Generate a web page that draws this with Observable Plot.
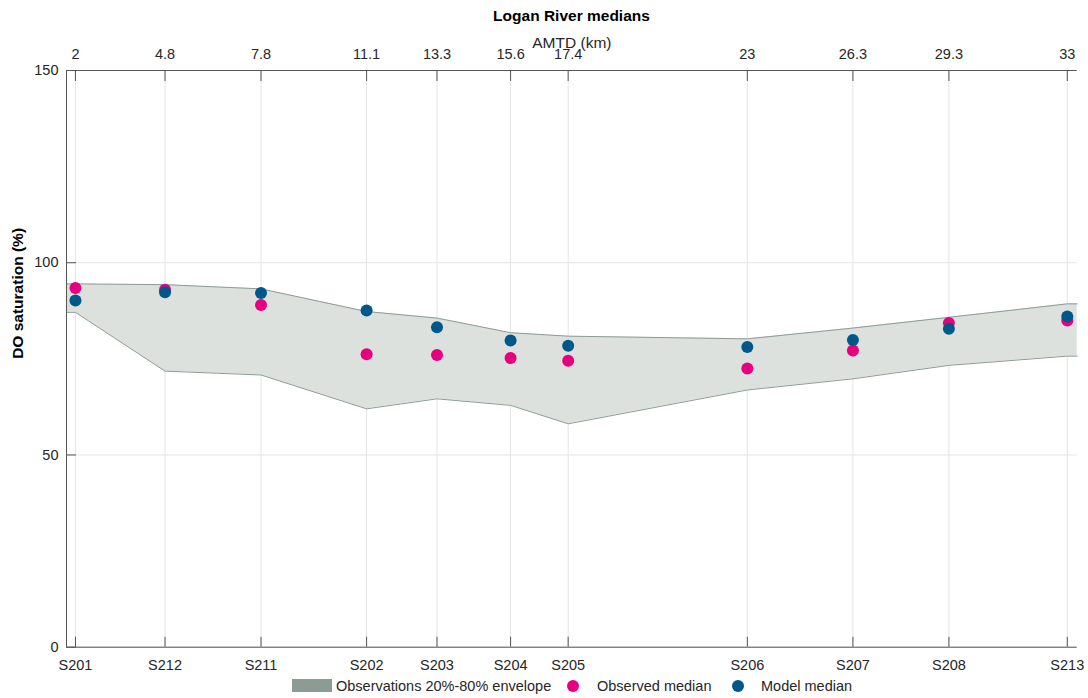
<!DOCTYPE html>
<html>
<head>
<meta charset="utf-8">
<script src="https://cdn.jsdelivr.net/npm/d3@7"></script>
<script src="https://cdn.jsdelivr.net/npm/@observablehq/plot@0.6"></script>
<style>
  html, body { margin: 0; padding: 0; background: #fff; }
  body { width: 1088px; height: 698px; position: relative; overflow: hidden;
         font-family: "Liberation Sans", Arial, sans-serif; color: #262626; }
  #title { height: 32px; line-height: 32px; box-sizing: border-box;
           padding-left: 66px; padding-right: 11px; text-align: center;
           font-weight: bold; font-size: 15.5px; color: #000; }
  #chart svg { display: block; }
  #legend { position: absolute; left: 0; top: 676px; height: 20px; width: 1088px; font-size: 14.5px; }
  #legend .sw { position: absolute; top: 3px; width: 40px; height: 13px; }
  #legend .dot { position: absolute; top: 3.5px; width: 12px; height: 12px; border-radius: 50%; }
  #legend .lab { position: absolute; top: 0; line-height: 20px; white-space: nowrap; }
</style>
</head>
<body>
<div id="title">Logan River medians</div>
<div id="chart"></div>
<div id="legend"></div>
<script>
// ---- data ----
const sites    = ["S201","S212","S211","S202","S203","S204","S205","S206","S207","S208","S213"];
const amtd     = [2, 4.8, 7.8, 11.1, 13.3, 15.6, 17.4, 23, 26.3, 29.3, 33];
const envLow   = [87.1, 71.8, 70.8, 62.0, 64.6, 62.9, 58.1, 66.9, 69.8, 73.3, 75.7];
const envHigh  = [94.5, 94.3, 93.2, 87.3, 85.6, 81.8, 80.9, 80.2, 83.0, 85.8, 89.3];
const observed = [93.4, 93.0, 89.0, 76.2, 76.0, 75.2, 74.5, 72.5, 77.2, 84.3, 85.0];
const model    = [90.2, 92.3, 92.1, 87.6, 83.2, 79.8, 78.4, 78.1, 79.9, 82.8, 86.0];
const yTicks   = [0, 50, 100, 150];
const xDomain  = [1.72, 33.31];
const yDomain  = [0, 150];
const legendLabels = ["Observations 20%-80% envelope", "Observed median", "Model median"];

const colEnvFill = "#dce1dd", colEnvLine = "#8c9c94", colSwatch = "#8a9c94";
const colObs = "#e6007e", colModel = "#00588a";
const colAxis = "#555555", colGrid = "#e4e4e4";

// ---- tables ----
const env = [
  {x: xDomain[0], lo: envLow[0], hi: envHigh[0]},
  ...amtd.map((x, i) => ({x, lo: envLow[i], hi: envHigh[i]})),
  {x: xDomain[1], lo: envLow[envLow.length - 1], hi: envHigh[envHigh.length - 1]}
];
const obsRows = amtd.map((x, i) => ({x, y: observed[i]}));
const modRows = amtd.map((x, i) => ({x, y: model[i]}));
const siteOf = d => sites[amtd.indexOf(d)];

const chart = Plot.plot({
  width: 1088,
  height: 644,
  marginLeft: 66,
  marginRight: 11.3,
  marginTop: 38,
  marginBottom: 29.3,
  x: {domain: xDomain},
  y: {domain: yDomain},
  style: {fontFamily: "'Liberation Sans', Arial, sans-serif", fontSize: "14.5px", color: "#262626", background: "white"},
  marks: [
    Plot.gridX(amtd, {stroke: colGrid, strokeOpacity: 1}),
    Plot.gridY(yTicks, {stroke: colGrid, strokeOpacity: 1}),
    Plot.areaY(env, {x: "x", y1: "lo", y2: "hi", fill: colEnvFill}),
    Plot.line(env, {x: "x", y: "hi", stroke: colEnvLine, strokeWidth: 1}),
    Plot.line(env, {x: "x", y: "lo", stroke: colEnvLine, strokeWidth: 1}),
    Plot.dot(obsRows, {x: "x", y: "y", r: 6, fill: colObs}),
    Plot.dot(modRows, {x: "x", y: "y", r: 6, fill: colModel}),
    Plot.ruleY([yDomain[0], yDomain[1]], {stroke: colAxis}),
    Plot.ruleX([xDomain[0]], {stroke: colAxis}),
    Plot.axisX({anchor: "bottom", ticks: amtd, tickSize: 0, tickPadding: 13, tickFormat: siteOf, label: null}),
    Plot.axisX({anchor: "bottom", ticks: amtd, tickSize: -10, tickFormat: () => "", label: null, stroke: colAxis}),
    Plot.axisX({anchor: "top", ticks: amtd, tickSize: 0, tickPadding: 12, tickFormat: d => String(d), label: null}),
    Plot.axisX({anchor: "top", ticks: amtd, tickSize: -10, tickFormat: () => "", label: null, stroke: colAxis}),
    Plot.axisY({anchor: "left", ticks: yTicks, tickSize: 0, tickPadding: 8, tickFormat: d => String(d), label: null}),
    Plot.axisY({anchor: "left", ticks: yTicks, tickSize: -10, tickFormat: () => "", label: null, stroke: colAxis}),
    Plot.text(["AMTD (km)"], {frameAnchor: "top", dy: -33.5, fontSize: 15.5, fill: "#262626"}),
    Plot.text(["DO saturation (%)"], {frameAnchor: "left", dx: -48, rotate: -90, fontSize: 15.5, fontWeight: "bold", fill: "#000"})
  ]
});
document.getElementById("chart").appendChild(chart);

// ---- legend ----
const leg = document.getElementById("legend");
const items = [
  {cls: "sw", left: 292, color: colSwatch, textLeft: 336, label: legendLabels[0]},
  {cls: "dot", left: 567, color: colObs, textLeft: 597, label: legendLabels[1]},
  {cls: "dot", left: 732, color: colModel, textLeft: 761, label: legendLabels[2]}
];
for (const it of items) {
  const s = document.createElement("div");
  s.className = it.cls; s.style.left = it.left + "px"; s.style.background = it.color;
  leg.appendChild(s);
  const t = document.createElement("div");
  t.className = "lab"; t.style.left = it.textLeft + "px"; t.textContent = it.label;
  leg.appendChild(t);
}
</script>
</body>
</html>
